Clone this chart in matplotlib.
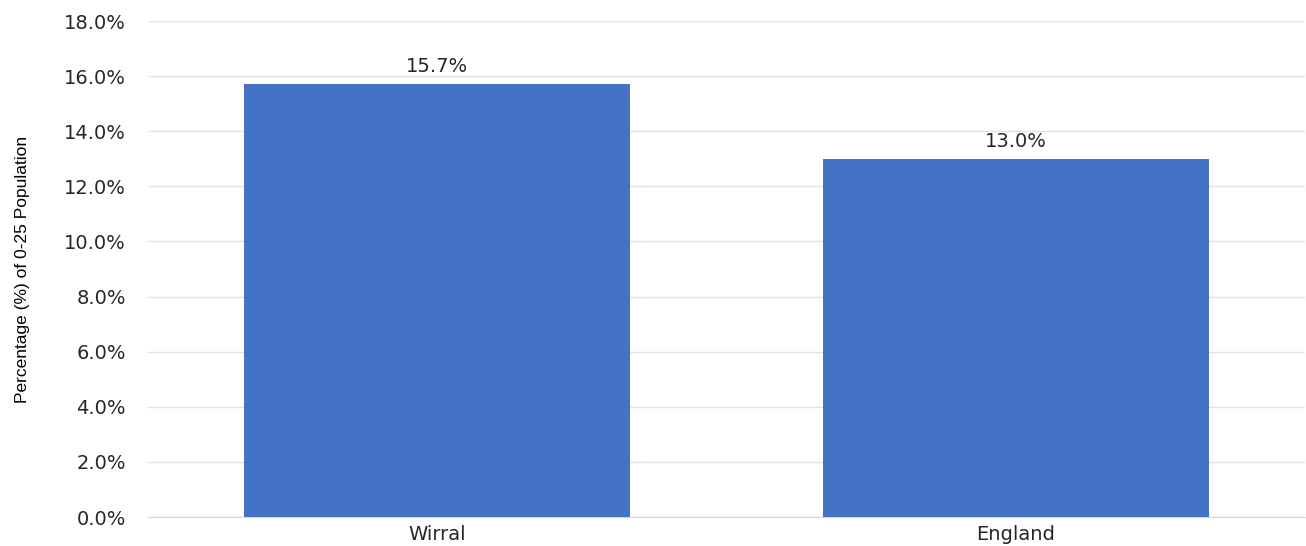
import matplotlib
matplotlib.use("Agg")
import matplotlib.pyplot as plt
from matplotlib.ticker import FuncFormatter

# data
areas = ["Wirral", "England"]
pct = [15.7, 13.0]
yticks = [0, 2, 4, 6, 8, 10, 12, 14, 16, 18]

plt.rcParams['font.family'] = ['DejaVu Sans']

fig = plt.figure(figsize=(13.06, 5.46), dpi=100)
ax = fig.add_axes([0.1133, 0.0531, 0.886, 0.9084])

x = range(len(areas))
bars = ax.bar(x, pct, width=0.667, color="#4472C4", zorder=3)

for b, v in zip(bars, pct):
    ax.text(b.get_x() + b.get_width() / 2, v + 0.3, "%.1f%%" % v,
            ha="center", va="bottom", fontsize=14, color="#262626")

ax.set_xlim(-0.5, 1.5)
ax.set_ylim(0, 18)
ax.set_yticks(yticks)
ax.yaxis.set_major_formatter(FuncFormatter(lambda v, p: "%.1f%%" % v))
ax.set_xticks(list(x))
ax.set_xticklabels(areas)
ax.tick_params(axis="both", length=0, labelsize=14, colors="#262626")
ax.tick_params(axis="y", pad=16)
ax.tick_params(axis="x", pad=6)

ax.grid(axis="y", color="#e3e3e3", linewidth=1, zorder=0)
for s in ["top", "right", "left"]:
    ax.spines[s].set_visible(False)
ax.spines["bottom"].set_color("#d9d9d9")

ax.set_ylabel("Percentage (%) of 0-25 Population", fontsize=12.5,
              family=["Liberation Sans", "DejaVu Sans"], color="#000000")
ax.yaxis.set_label_coords(-0.102, 0.5)

fig.savefig("out.png", dpi=100)
